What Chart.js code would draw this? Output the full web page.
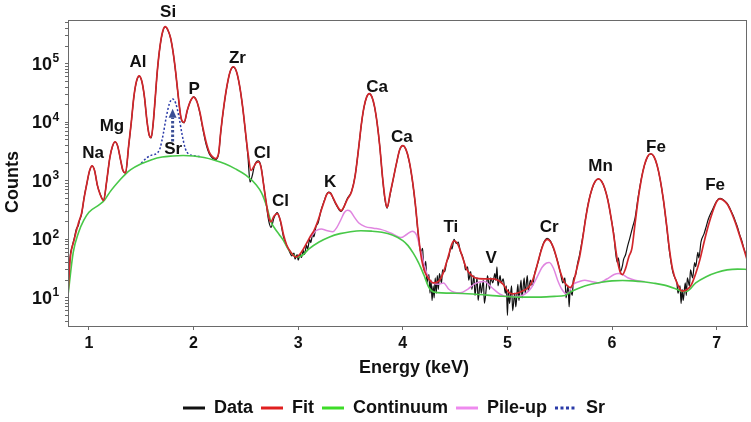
<!DOCTYPE html>
<html>
<head>
<meta charset="utf-8">
<title>XRF spectrum</title>
<script src="https://cdn.jsdelivr.net/npm/chart.js@4.4.1/dist/chart.umd.min.js"></script>
<style>
  html, body { margin: 0; padding: 0; background: #fff; }
  #wrap { width: 751px; height: 422px; }
</style>
</head>
<body>
<div id="wrap"><canvas id="chart" width="751" height="422"></canvas></div>
<script>
// spectrum as [energy keV, counts]
const dataPoints = [[0.80,11],[0.82,50],[0.84,75],[0.86,105],[0.88,150],[0.90,175],[0.91,210],[0.93,270],[0.955,530],[0.98,890],[1.005,1450],[1.03,1790],[1.055,1480],[1.08,840],[1.105,610],[1.14,465],[1.17,990],[1.20,2480],[1.225,3850],[1.25,4600],[1.275,3920],[1.30,2380],[1.325,1490],[1.35,1350],[1.38,3950],[1.405,10000],[1.43,27500],[1.455,50000],[1.48,61000],[1.505,50500],[1.53,27500],[1.555,10400],[1.575,6100],[1.595,5400],[1.615,9900],[1.63,21000],[1.655,79000],[1.68,200000],[1.705,352000],[1.73,425000],[1.755,375000],[1.78,276000],[1.805,155000],[1.83,69000],[1.855,26500],[1.88,11800],[1.91,9800],[1.94,15800],[1.97,22800],[2.00,27200],[2.03,23200],[2.06,14500],[2.09,7500],[2.12,4200],[2.15,2900],[2.18,2450],[2.21,2300],[2.24,2900],[2.26,6800],[2.29,18800],[2.32,42000],[2.35,73500],[2.38,88000],[2.41,73500],[2.44,42000],[2.47,17800],[2.50,5800],[2.52,2600],[2.54,950],[2.56,1200],[2.58,1750],[2.60,2100],[2.62,2200],[2.645,1750],[2.67,860],[2.695,400],[2.72,200],[2.74,160],[2.77,235],[2.80,285],[2.83,205],[2.86,110],[2.89,78],[2.91,66],[2.94,52],[2.96,58],[2.97,46],[2.99,55],[3.00,44],[3.02,56],[3.03,49],[3.05,64],[3.06,55],[3.08,80],[3.09,68],[3.11,100],[3.12,88],[3.14,125],[3.15,110],[3.17,165],[3.19,190],[3.22,320],[3.25,460],[3.27,580],[3.29,640],[3.31,620],[3.33,520],[3.36,400],[3.41,300],[3.47,500],[3.51,660],[3.545,1250],[3.58,3900],[3.605,9500],[3.63,18300],[3.655,27000],[3.68,30800],[3.705,27000],[3.73,18400],[3.755,9600],[3.78,3900],[3.805,1200],[3.83,470],[3.85,340],[3.88,600],[3.91,1100],[3.94,2000],[3.97,3380],[4.00,3980],[4.03,3420],[4.06,2200],[4.09,1060],[4.12,390],[4.15,110],[4.17,60],[4.19,70],[4.20,30],[4.22,42],[4.23,18],[4.25,25],[4.26,12],[4.27,20],[4.28,9],[4.29,16],[4.30,10],[4.31,22],[4.32,12],[4.33,24],[4.34,14],[4.35,26],[4.37,18],[4.38,30],[4.40,28],[4.42,42],[4.44,50],[4.46,75],[4.47,68],[4.49,100],[4.51,85],[4.53,90],[4.55,62],[4.57,52],[4.59,38],[4.60,30],[4.62,34],[4.63,20],[4.65,28],[4.66,14],[4.68,24],[4.69,11],[4.71,22],[4.72,9],[4.74,18],[4.75,12],[4.77,20],[4.78,8],[4.80,16],[4.81,24],[4.83,14],[4.84,22],[4.86,18],[4.88,26],[4.89,20],[4.90,34],[4.91,16],[4.93,24],[4.94,18],[4.96,21],[4.98,12],[4.99,16],[5.00,5],[5.01,14],[5.02,8],[5.04,16],[5.05,6],[5.07,12],[5.08,7],[5.10,17],[5.11,9],[5.13,20],[5.14,10],[5.16,22],[5.17,12],[5.19,24],[5.20,13],[5.22,20],[5.24,16],[5.26,26],[5.28,34],[5.30,45],[5.32,64],[5.35,90],[5.38,104],[5.41,94],[5.44,70],[5.47,48],[5.49,36],[5.51,25],[5.53,18],[5.55,22],[5.56,10],[5.58,16],[5.59,7],[5.60,14],[5.62,11],[5.63,20],[5.65,24],[5.67,38],[5.69,55],[5.72,110],[5.75,245],[5.78,470],[5.81,740],[5.84,990],[5.87,1085],[5.90,975],[5.93,740],[5.96,470],[5.99,235],[6.02,110],[6.03,70],[6.05,40],[6.06,48],[6.08,28],[6.10,36],[6.11,45],[6.13,55],[6.15,78],[6.17,105],[6.20,170],[6.22,230],[6.25,530],[6.28,1090],[6.31,1850],[6.34,2580],[6.37,2880],[6.40,2600],[6.43,1850],[6.46,1050],[6.49,480],[6.52,180],[6.55,60],[6.58,28],[6.60,22],[6.62,18],[6.63,12],[6.65,16],[6.66,8],[6.67,14],[6.68,9],[6.70,18],[6.71,11],[6.72,22],[6.74,16],[6.75,30],[6.77,22],[6.79,40],[6.80,34],[6.82,60],[6.83,48],[6.85,90],[6.88,125],[6.90,165],[6.92,220],[6.96,320],[7.00,450],[7.03,500],[7.06,480],[7.10,410],[7.14,300],[7.16,250],[7.18,200],[7.20,160],[7.22,120],[7.24,95],[7.26,70],[7.28,55],[7.30,42]];

const fitPoints = [[0.80,12],[0.82,45],[0.86,100],[0.90,190],[0.93,280],[0.955,520],[0.98,900],[1.005,1470],[1.03,1800],[1.055,1470],[1.08,850],[1.105,600],[1.14,460],[1.17,1000],[1.20,2500],[1.225,3900],[1.25,4650],[1.275,3900],[1.30,2400],[1.325,1500],[1.35,1370],[1.38,4000],[1.405,10100],[1.43,27700],[1.455,50700],[1.48,62000],[1.505,50700],[1.53,27700],[1.555,10500],[1.575,6200],[1.595,5500],[1.615,10000],[1.63,21500],[1.655,80000],[1.68,203000],[1.705,356000],[1.73,430000],[1.755,378000],[1.78,278000],[1.805,156000],[1.83,70000],[1.855,27000],[1.88,12000],[1.91,10000],[1.94,16000],[1.97,23000],[2.00,27000],[2.03,23000],[2.06,15000],[2.09,8000],[2.12,4600],[2.15,3100],[2.18,2600],[2.21,2400],[2.24,3000],[2.26,6900],[2.29,19000],[2.32,42500],[2.35,74000],[2.38,89000],[2.41,74000],[2.44,42500],[2.47,18000],[2.50,6000],[2.52,3000],[2.55,1500],[2.58,1800],[2.60,2050],[2.62,2100],[2.645,1700],[2.67,850],[2.695,420],[2.72,230],[2.74,200],[2.77,250],[2.80,275],[2.83,210],[2.86,120],[2.89,80],[2.93,60],[2.98,50],[3.03,60],[3.08,85],[3.12,115],[3.15,140],[3.19,210],[3.22,310],[3.25,450],[3.27,570],[3.29,630],[3.31,610],[3.33,530],[3.36,410],[3.41,310],[3.47,480],[3.51,650],[3.545,1230],[3.58,3900],[3.605,9600],[3.63,18500],[3.655,27200],[3.68,31000],[3.705,27200],[3.73,18500],[3.755,9600],[3.78,3900],[3.805,1230],[3.83,500],[3.85,350],[3.88,620],[3.91,1100],[3.94,2000],[3.97,3400],[4.00,4000],[4.03,3450],[4.06,2240],[4.09,1080],[4.12,400],[4.15,115],[4.18,45],[4.21,28],[4.25,21],[4.29,18],[4.34,19],[4.38,25],[4.41,36],[4.44,55],[4.47,84],[4.49,94],[4.52,86],[4.55,64],[4.58,44],[4.61,31],[4.65,25],[4.69,22],[4.78,21],[4.85,21],[4.91,20],[4.96,17],[5.01,12.5],[5.05,11.7],[5.14,13],[5.20,15],[5.23,18],[5.26,25],[5.29,40],[5.32,62],[5.35,88],[5.38,100],[5.41,92],[5.44,72],[5.47,48],[5.50,30],[5.53,21],[5.56,17],[5.60,15],[5.63,18],[5.66,30],[5.69,50],[5.72,105],[5.75,240],[5.78,465],[5.81,745],[5.84,980],[5.87,1080],[5.90,980],[5.93,745],[5.96,465],[5.99,240],[6.02,105],[6.05,45],[6.08,27],[6.10,25],[6.13,32],[6.16,50],[6.19,70],[6.22,185],[6.25,490],[6.28,1060],[6.31,1860],[6.34,2600],[6.37,2900],[6.40,2600],[6.43,1860],[6.46,1060],[6.49,490],[6.52,185],[6.55,65],[6.58,30],[6.62,18],[6.67,13],[6.72,14],[6.76,17],[6.80,26],[6.84,45],[6.88,90],[6.92,170],[6.96,290],[7.00,440],[7.03,490],[7.06,470],[7.10,400],[7.14,290],[7.18,190],[7.22,115],[7.26,68],[7.29,45]];

const continuumPoints = [[0.80,11],[0.85,60],[0.90,130],[0.95,210],[1.00,290],[1.10,390],[1.15,470],[1.20,640],[1.30,1050],[1.35,1300],[1.40,1550],[1.50,1950],[1.60,2300],[1.70,2550],[1.80,2650],[1.90,2700],[2.00,2650],[2.10,2500],[2.20,2250],[2.30,1950],[2.40,1600],[2.50,1250],[2.60,850],[2.65,620],[2.70,360],[2.74,200],[2.78,150],[2.82,120],[2.86,95],[2.90,70],[2.95,55],[3.00,50],[3.05,55],[3.10,68],[3.20,90],[3.30,110],[3.40,125],[3.50,135],[3.60,140],[3.70,138],[3.80,132],[3.90,118],[4.00,95],[4.05,78],[4.10,58],[4.15,40],[4.20,25],[4.25,15],[4.30,12.5],[4.50,12],[4.70,11.5],[4.90,10.8],[5.10,10.3],[5.30,10.3],[5.45,10.6],[5.55,11],[5.60,12.5],[5.70,15],[5.80,17],[5.90,18.5],[6.00,19.5],[6.10,19.8],[6.20,19.5],[6.30,18.8],[6.40,17.8],[6.50,16.5],[6.60,14.5],[6.68,12.8],[6.72,13],[6.80,18],[6.90,23],[7.00,27],[7.10,30],[7.20,31],[7.30,30.5]];

const pileupPoints = [[3.12,110],[3.17,140],[3.22,150],[3.28,140],[3.33,135],[3.37,160],[3.41,220],[3.44,285],[3.47,315],[3.50,300],[3.54,235],[3.58,190],[3.64,165],[3.72,155],[3.79,148],[3.90,125],[3.98,107],[4.04,122],[4.09,138],[4.13,120],[4.17,65],[4.21,34],[4.25,21],[4.29,18],[4.34,17],[4.39,18],[4.44,14],[4.49,12.5],[4.55,12.2],[4.62,14],[4.69,17.5],[4.78,19],[4.85,15],[4.93,11.5],[5.00,10.5],[5.10,10.5],[5.18,12],[5.23,15],[5.28,22],[5.33,33],[5.37,39],[5.40,40],[5.44,32],[5.48,20],[5.52,14],[5.57,11.5],[5.63,17],[5.69,19],[5.74,20],[5.80,19],[5.87,18],[5.95,21],[6.02,25],[6.06,26],[6.10,25],[6.15,22],[6.22,20],[6.31,19]];

const srPoints = [[1.50,2000],[1.55,2450],[1.60,2750],[1.65,2950],[1.68,3600],[1.71,6250],[1.74,12500],[1.77,21000],[1.80,25000],[1.83,21000],[1.86,12500],[1.89,6250],[1.92,3600],[1.95,2900],[2.00,2700],[2.06,2600]];

// peak annotations
const peakNames = ['Na','Mg','Al','Si','Sr','P','Zr','Cl','Cl','K','Ca','Ca','Ti','V','Cr','Mn','Fe','Fe'];
const peakE = [1.04,1.22,1.47,1.757,1.805,2.005,2.42,2.656,2.83,3.306,3.755,3.99,4.46,4.845,5.40,5.89,6.42,6.985];
const peakCounts = [2900,8700,108000,745000,3400,37000,126000,3000,440,950,40000,5600,158,47,162,1740,3800,850];

// Sr arrow: energy, dotted shaft from/to, head tip (counts)
const srArrow = { e: 1.80, from: 4700, to: 12000, tip: 17000 };

const xTickValues = [1, 2, 3, 4, 5, 6, 7];
const yDecades = [1, 2, 3, 4, 5];
const X_MIN = 0.8, X_MAX = 7.29, Y_MIN = 3.3, Y_MAX = 560000;

const FONT = '"Liberation Sans", Arial, Helvetica, sans-serif';

const pts = list => list.map(([x, y]) => ({ x, y }));

const decorations = {
  id: 'decorations',
  afterDraw(chart) {
    const { ctx, chartArea: a, scales: { x, y } } = chart;
    ctx.save();

    // frame round the plot
    ctx.strokeStyle = '#6a6a6a';
    ctx.lineWidth = 1;
    ctx.setLineDash([]);
    ctx.strokeRect(a.left + 0.5, a.top + 0.5, a.right - a.left - 1, a.bottom - a.top);

    // y tick labels as 10 with a raised exponent
    ctx.fillStyle = '#111';
    ctx.textBaseline = 'middle';
    yDecades.forEach(k => {
      const py = y.getPixelForValue(Math.pow(10, k));
      ctx.font = `bold 18px ${FONT}`;
      ctx.textAlign = 'right';
      ctx.fillText('10', 52, py + 1);
      ctx.font = `bold 12px ${FONT}`;
      ctx.textAlign = 'left';
      ctx.fillText(String(k), 52.5, py - 5);
    });

    // axis titles
    ctx.font = `bold 18px ${FONT}`;
    ctx.textAlign = 'center';
    ctx.fillText('Energy (keV)', 414, 368);
    ctx.save();
    ctx.translate(13, 182);
    ctx.rotate(-Math.PI / 2);
    ctx.fillText('Counts', 0, 0);
    ctx.restore();

    // peak labels
    ctx.font = `bold 17px ${FONT}`;
    peakNames.forEach((n, i) => {
      ctx.fillText(n, x.getPixelForValue(peakE[i]), y.getPixelForValue(peakCounts[i]));
    });

    // Sr arrow
    const ax = x.getPixelForValue(srArrow.e);
    const y0 = y.getPixelForValue(srArrow.from);
    const y1 = y.getPixelForValue(srArrow.to);
    const yt = y.getPixelForValue(srArrow.tip);
    ctx.strokeStyle = '#3b4f96';
    ctx.fillStyle = '#3b4f96';
    ctx.lineWidth = 3;
    ctx.setLineDash([2.5, 2]);
    ctx.beginPath();
    ctx.moveTo(ax, y0);
    ctx.lineTo(ax, y1);
    ctx.stroke();
    ctx.setLineDash([]);
    ctx.beginPath();
    ctx.moveTo(ax, yt);
    ctx.lineTo(ax - 4, y1);
    ctx.lineTo(ax + 4, y1);
    ctx.closePath();
    ctx.fill();

    // legend under the axis title
    ctx.font = `bold 18px ${FONT}`;
    ctx.textAlign = 'left';
    const lineW = 22, gap = 9, spacing = 8;
    const items = chart.data.datasets.map(d => ({ d, w: ctx.measureText(d.label).width }));
    const total = items.reduce((s, it) => s + lineW + gap + it.w, 0) + spacing * (items.length - 1);
    let lx = 394 - total / 2;
    const ly = 408;
    items.forEach(({ d, w }) => {
      ctx.strokeStyle = d.legendColor || d.borderColor;
      ctx.lineWidth = 3;
      ctx.setLineDash(d.borderDash && d.borderDash.length ? [3, 2.5] : []);
      ctx.beginPath();
      ctx.moveTo(lx, ly);
      ctx.lineTo(lx + lineW, ly);
      ctx.stroke();
      ctx.setLineDash([]);
      ctx.fillStyle = '#111';
      ctx.fillText(d.label, lx + lineW + gap, ly);
      lx += lineW + gap + w + spacing;
    });

    ctx.restore();
  }
};

const common = { pointRadius: 0, fill: false, cubicInterpolationMode: 'monotone' };

new Chart(document.getElementById('chart'), {
  type: 'line',
  data: {
    datasets: [
      { ...common, label: 'Data', data: pts(dataPoints), borderColor: '#111111', borderWidth: 1.2, order: 4 },
      { ...common, label: 'Fit', data: pts(fitPoints), borderColor: '#d2262b', legendColor: '#e01f1f', borderWidth: 1.7, order: 0 },
      { ...common, label: 'Continuum', data: pts(continuumPoints), borderColor: '#48c848', legendColor: '#3ddc28', borderWidth: 1.6, order: 1 },
      { ...common, label: 'Pile-up', data: pts(pileupPoints), borderColor: '#e086e0', legendColor: '#ee8aee', borderWidth: 1.5, order: 2 },
      { ...common, label: 'Sr', data: pts(srPoints), borderColor: '#2a3aa8', borderWidth: 1.5, borderDash: [2, 2], order: 3 },
    ],
  },
  options: {
    responsive: false,
    animation: false,
    events: [],
    layout: { padding: { left: 0, right: 4, top: 20, bottom: 0 } },
    plugins: { legend: { display: false }, tooltip: { enabled: false } },
    scales: {
      x: {
        type: 'linear',
        min: X_MIN,
        max: X_MAX,
        afterBuildTicks: s => { s.ticks = xTickValues.map(v => ({ value: v })); },
        afterFit: s => { s.height = 96; },
        ticks: { color: '#111', font: { family: FONT, size: 16, weight: 'bold' }, padding: 4, autoSkip: false, maxRotation: 0 },
        grid: { drawOnChartArea: false, drawTicks: true, tickLength: 4, color: '#6a6a6a' },
        border: { display: true, color: '#6a6a6a' },
      },
      y: {
        type: 'logarithmic',
        min: Y_MIN,
        max: Y_MAX,
        afterBuildTicks: s => {
          const t = [];
          for (let k = 0; k <= 5; k++) {
            for (let m = 1; m <= 9; m++) {
              const v = m * Math.pow(10, k);
              if (v >= Y_MIN && v <= Y_MAX) t.push({ value: v, major: m === 1 });
            }
          }
          s.ticks = t;
        },
        afterFit: s => { s.width = 68; },
        ticks: { display: false, autoSkip: false },
        grid: { drawOnChartArea: false, drawTicks: true, tickLength: 3, color: '#6a6a6a' },
        border: { display: true, color: '#6a6a6a' },
      },
    },
  },
  plugins: [decorations],
});
</script>
</body>
</html>
